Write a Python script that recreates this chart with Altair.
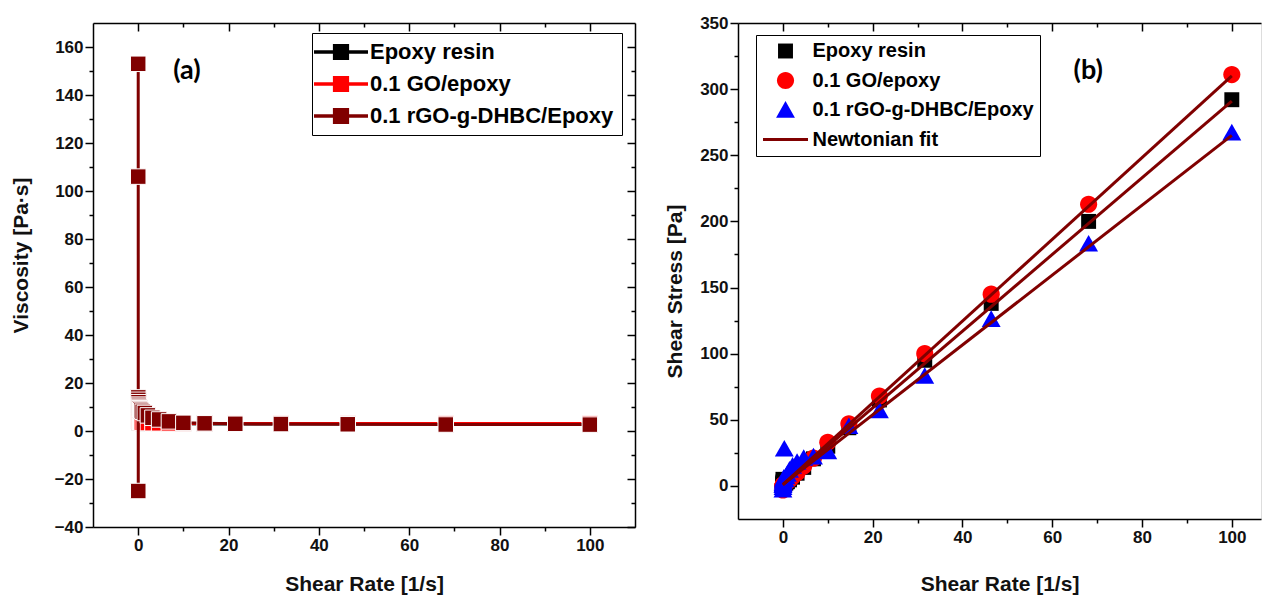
import altair as alt
import pandas as pd

# ---------------- data ----------------
rates = [0.01, 0.0147, 0.0215, 0.0316, 0.0464, 0.0681, 0.1, 0.147, 0.215, 0.316,
         0.464, 0.681, 1.0, 1.47, 2.15, 3.16, 4.64, 6.81, 10.0, 14.7, 21.5, 31.6,
         46.4, 68.1, 100.0]

series_names = ["Epoxy resin", "0.1 GO/epoxy", "0.1 rGO-g-DHBC/Epoxy"]
colors_a = ["#000000", "#ff0000", "#800000"]

# panel (a): viscosity [Pa·s]
visc_epoxy = [9.0, 6.5, 5.5, 5.0, 4.6, 4.3, 4.0, 3.8, 3.6, 3.5, 3.4, 3.3, 3.2, 3.15,
              3.1, 3.05, 3.0, 3.0, 2.97, 2.95, 2.94, 2.93, 2.93, 2.92, 2.92]
visc_go = [12.0, 9.0, 7.0, 6.0, 5.4, 5.0, 4.6, 4.3, 4.0, 3.8, 3.6, 3.5, 3.4, 3.35,
           3.3, 3.25, 3.2, 3.18, 3.15, 3.13, 3.12, 3.11, 3.1, 3.1, 3.1]
visc_rgo = [153.0, 106.0, -25.0, 14.0, 13.0, 12.0, 11.0, 10.5, 10.0, 9.5, 9.0, 8.5,
            8.0, 7.5, 6.5, 5.5, 4.8, 4.0, 3.4, 3.2, 3.0, 2.9, 2.8, 2.7, 2.66]

# panel (b): shear stress [Pa]
legend_b_names = ["Epoxy resin", "0.1 GO/epoxy", "0.1 rGO-g-DHBC/Epoxy", "Newtonian fit"]
colors_b = ["#000000", "#ff0000", "#0000ff", "#800000"]

stress_epoxy = [5.0, 3.0, 2.0, 1.5, 1.2, 1.0, 0.8, 0.9, 1.0, 1.2, 1.6, 2.3, 3.2, 4.6,
                6.6, 9.6, 14.0, 20.5, 30.0, 44.0, 65.0, 95.0, 138.0, 200.0, 292.0]
stress_go = [-3.0, 0.3, 0.2, 0.3, 0.4, 0.5, 0.6, 0.8, 1.0, 1.3, 1.8, 2.4, 3.3, 4.7,
             6.9, 10.0, 15.0, 21.0, 33.0, 47.0, 68.0, 100.0, 145.0, 213.0, 311.0]
stress_rgo = [-3.0, 0.5, -1.0, 1.0, 2.0, 3.0, 4.0, 5.0, 6.0, 28.0, 5.0, 7.0, 9.0,
              12.0, 15.0, 18.0, 21.0, 22.0, 26.0, 45.0, 57.0, 83.0, 126.0, 183.0, 267.0]

# Newtonian fit lines (end points)
fit_x = [0.0, 100.0]
fit_epoxy = [1.0, 291.0]
fit_go = [1.0, 310.0]
fit_rgo = [1.0, 265.0]

# panel labels (placed in data units)
panel_a_label = ["(a)"]
panel_a_pos = [[10.8, 150.0]]
panel_b_label = ["(b)"]
panel_b_pos = [[68.0, 314.0]]

# ---------------- styling ----------------
SANS = "Liberation Sans, Arial"
DARK = "#800000"

W_A, H_A = 542, 504
W_B, H_B = 523, 496

XA = alt.Scale(domain=[-10, 110], nice=False, zero=False)
YA = alt.Scale(domain=[-40, 170], nice=False, zero=False)
XB = alt.Scale(domain=[-10, 106.5], nice=False, zero=False)
YB = alt.Scale(domain=[-25, 350], nice=False, zero=False)


def ax(**kw):
    base = dict(grid=False, domainColor="black", domainWidth=1.5, tickColor="black",
                tickWidth=1.5, labelFont=SANS, labelFontSize=17, labelFontWeight="bold",
                labelColor="#111111", labelPadding=2, titleFont=SANS, titleFontSize=21,
                titleFontWeight="bold", titleColor="#111111")
    base.update(kw)
    return alt.Axis(**base)


def no_ax(values, size, **kw):
    return ax(values=values, tickSize=size, labels=False, title=None, **kw)


# ---------------- panel (a) ----------------
dfA = pd.DataFrame({
    "rate": rates * 3,
    "visc": visc_epoxy + visc_go + visc_rgo,
    "series": [s for s in series_names for _ in rates],
})

majA_x = [0, 20, 40, 60, 80, 100]
minA_x = [10, 30, 50, 70, 90]
majA_y = list(range(-40, 161, 20))
minA_y = list(range(-30, 161, 20))

baseA = alt.Chart(dfA)

axis_main_a = baseA.mark_point(opacity=0).encode(
    x=alt.X("rate:Q", scale=XA, axis=ax(orient="bottom", values=majA_x, tickSize=8,
                                        title="Shear Rate [1/s]", titleY=57,
                                        titleBaseline="middle")),
    y=alt.Y("visc:Q", scale=YA, axis=ax(orient="left", values=majA_y, tickSize=8,
                                        title="Viscosity [Pa·s]", titleX=-72, titleY=232,
                                        titleBaseline="middle", titleAngle=270)),
)
axis_minor_a = baseA.mark_point(opacity=0).encode(
    x=alt.X("rate:Q", scale=XA, axis=no_ax(minA_x, 4, orient="bottom", domain=False)),
    y=alt.Y("visc:Q", scale=YA, axis=no_ax(minA_y, 4, orient="left", domain=False)),
)
axis_frame_a = baseA.mark_point(opacity=0).encode(
    x=alt.X("rate:Q", scale=XA, axis=no_ax(majA_x, 8, orient="bottom", offset=-H_A)),
    y=alt.Y("visc:Q", scale=YA, axis=no_ax(majA_y, 8, orient="left", offset=-W_A)),
)
axis_frame_minor_a = baseA.mark_point(opacity=0).encode(
    x=alt.X("rate:Q", scale=XA, axis=no_ax(minA_x, 4, orient="bottom", offset=-H_A, domain=False)),
    y=alt.Y("visc:Q", scale=YA, axis=no_ax(minA_y, 4, orient="left", offset=-W_A, domain=False)),
)

# line - square - line legend glyph (scaled by sqrt(324)/2 = 9 px per unit)
PATH_A = "M-3,-0.2H-0.9V-0.9H0.9V-0.2H3V0.2H0.9V0.9H-0.9V0.2H-3Z"
legendA = alt.Legend(title=None, orient="none", legendX=219, legendY=10,
                     symbolType=PATH_A, symbolSize=324, symbolStrokeWidth=0,
                     symbolOpacity=1, symbolOffset=10, labelOffset=18,
                     labelFont=SANS, labelFontSize=22, labelFontWeight="bold",
                     labelColor="black", labelLimit=500, rowPadding=10,
                     strokeColor="black", fillColor="white", padding=8)

data_layers_a = []
for name, col in zip(series_names, colors_a):
    sub = baseA.transform_filter(alt.datum.series == name)
    data_layers_a.append(sub.mark_line(color=col, strokeWidth=3).encode(
        x=alt.X("rate:Q", scale=XA, axis=None),
        y=alt.Y("visc:Q", scale=YA, axis=None),
    ))
    data_layers_a.append(sub.mark_point(shape="square", filled=True, size=240, opacity=1,
                                        stroke="white", strokeWidth=1).encode(
        x=alt.X("rate:Q", scale=XA, axis=None),
        y=alt.Y("visc:Q", scale=YA, axis=None),
        fill=alt.Fill("series:N", scale=alt.Scale(domain=series_names, range=colors_a),
                      legend=legendA),
    ))

dfLabA = pd.DataFrame({"label": panel_a_label,
                       "x": [p[0] for p in panel_a_pos], "y": [p[1] for p in panel_a_pos]})
label_a = alt.Chart(dfLabA).mark_text(font="Lato, Open Sans", fontSize=27, fontWeight="bold",
                                      color="black").encode(
    x=alt.X("x:Q", scale=XA, axis=None), y=alt.Y("y:Q", scale=YA, axis=None), text="label:N")

panelA = alt.layer(axis_main_a, axis_minor_a, axis_frame_a, axis_frame_minor_a,
                   *data_layers_a, label_a).resolve_axis(
    x="independent", y="independent").properties(width=W_A, height=H_A)

# ---------------- panel (b) ----------------
dfB = pd.DataFrame({
    "rate": rates * 3,
    "stress": stress_epoxy + stress_go + stress_rgo,
    "sample": [s for s in series_names for _ in rates],
})
dfFit = pd.DataFrame({
    "rate": fit_x * 3,
    "stress": fit_epoxy + fit_go + fit_rgo,
    "fit": [s for s in series_names for _ in fit_x],
})

majB_x = [0, 20, 40, 60, 80, 100]
minB_x = [10, 30, 50, 70, 90]
majB_y = list(range(0, 351, 50))
minB_y = list(range(25, 326, 50))

baseB = alt.Chart(dfB)

axis_main_b = baseB.mark_point(opacity=0).encode(
    x=alt.X("rate:Q", scale=XB, axis=ax(orient="bottom", values=majB_x, tickSize=8,
                                        title="Shear Rate [1/s]", titleY=65,
                                        titleBaseline="middle")),
    y=alt.Y("stress:Q", scale=YB, axis=ax(orient="left", values=majB_y, tickSize=8,
                                          title="Shear Stress [Pa]", titleX=-63, titleY=268,
                                          titleBaseline="middle", titleAngle=270)),
)
axis_minor_b = baseB.mark_point(opacity=0).encode(
    x=alt.X("rate:Q", scale=XB, axis=no_ax(minB_x, 4, orient="bottom", domain=False)),
    y=alt.Y("stress:Q", scale=YB, axis=no_ax(minB_y, 4, orient="left", domain=False)),
)
axis_frame_b = baseB.mark_point(opacity=0).encode(
    x=alt.X("rate:Q", scale=XB, axis=no_ax(majB_x, 8, orient="bottom", offset=-H_B)),
    y=alt.Y("stress:Q", scale=YB, axis=None),
)
axis_frame_minor_b = baseB.mark_point(opacity=0).encode(
    x=alt.X("rate:Q", scale=XB, axis=no_ax(minB_x, 4, orient="bottom", offset=-H_B, domain=False)),
    y=alt.Y("stress:Q", scale=YB, axis=None),
)

# symbol paths (scaled by sqrt(324)/2 = 9 px per unit)
SQ = "M-0.83,-0.83H0.83V0.83H-0.83Z"
CI = "M-0.95,0A0.95,0.95,0,1,1,0.95,0A0.95,0.95,0,1,1,-0.95,0Z"
TR = "M0,-1.0L1.05,0.85L-1.05,0.85Z"
LN = "M-2.5,-0.18H2.5V0.18H-2.5Z"
shapes_b = [SQ, CI, TR, LN]

legendB = alt.Legend(title=None, orient="none", legendX=18, legendY=12,
                     symbolStrokeWidth=0, symbolOpacity=1, symbolSize=324,
                     symbolOffset=13.5, labelOffset=17, labelFont=SANS,
                     labelFontSize=20, labelFontWeight="bold", labelColor="black",
                     labelLimit=500, rowPadding=9.5, strokeColor="black",
                     fillColor="white", padding=6)

points_b = []
for name in series_names:
    sub = baseB.transform_filter(alt.datum.sample == name)
    points_b.append(sub.mark_point(filled=True, size=324, opacity=1, strokeWidth=0).encode(
        x=alt.X("rate:Q", scale=XB, axis=None),
        y=alt.Y("stress:Q", scale=YB, axis=None),
        fill=alt.Fill("sample:N", scale=alt.Scale(domain=legend_b_names, range=colors_b),
                      legend=legendB),
        shape=alt.Shape("sample:N", scale=alt.Scale(domain=legend_b_names, range=shapes_b),
                        legend=legendB),
    ))

fit_lines = alt.Chart(dfFit).mark_line(color=DARK, strokeWidth=3).encode(
    x=alt.X("rate:Q", scale=XB, axis=None),
    y=alt.Y("stress:Q", scale=YB, axis=None),
    detail="fit:N",
)

dfLabB = pd.DataFrame({"label": panel_b_label,
                       "x": [p[0] for p in panel_b_pos], "y": [p[1] for p in panel_b_pos]})
label_b = alt.Chart(dfLabB).mark_text(font="Lato, Open Sans", fontSize=27, fontWeight="bold",
                                      color="black").encode(
    x=alt.X("x:Q", scale=XB, axis=None), y=alt.Y("y:Q", scale=YB, axis=None), text="label:N")

panelB = alt.layer(axis_main_b, axis_minor_b, axis_frame_b, axis_frame_minor_b,
                   *points_b, fit_lines, label_b).resolve_axis(
    x="independent", y="independent").properties(width=W_B, height=H_B)

chart = alt.hconcat(panelA, panelB, spacing=103, bounds="flush").resolve_scale(
    fill="independent", shape="independent"
).properties(
    padding={"left": 9, "top": 13, "right": 0, "bottom": 0}
).configure_view(stroke=None).configure(background="white")

chart.save("out.html", embed_options={"renderer": "svg", "actions": False})
